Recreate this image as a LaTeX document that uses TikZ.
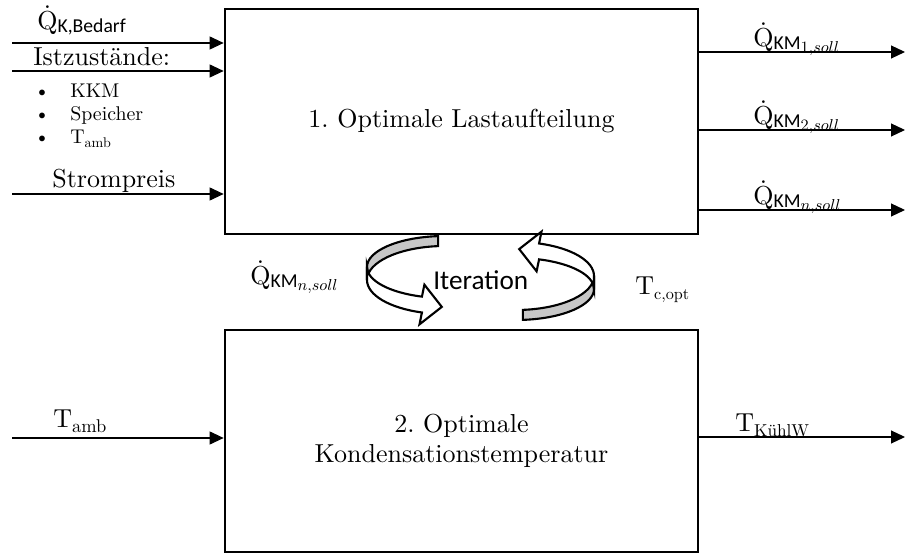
\documentclass[tikz,border=0pt]{standalone}
\usepackage{fontspec}
\usepackage{amsmath}
\setmainfont{lmroman10-regular.otf}
\newfontfamily\calibri{Carlito}
\usetikzlibrary{arrows.meta}

% Q with a centred dot above it
\newsavebox\qbox
\newcommand\Qd{\leavevmode\sbox\qbox{Q}%
  \rlap{\hbox to \wd\qbox{\hss\smash{\raisebox{\dimexpr\ht\qbox+2pt\relax}{.}}\hss}}%
  \usebox\qbox}
% flow rate with a sans subscript and an optional italic second-level index
\newcommand\Qflow[2]{\Qd\raisebox{-1.6pt}{\calibri\fontsize{11.2}{13}\selectfont #1%
  \ifx\relax#2\relax\else\raisebox{-1.4pt}{\fontsize{9}{11}\selectfont$#2$}\fi}}
% temperature with a lowered upright index of a given size
\newcommand\Tsub[2]{T\raisebox{-0.19em}{\fontsize{#1}{12}\selectfont #2}}

\tikzset{
  box/.style={draw, line width=1.6pt, align=center, inner sep=0pt,
    font=\fontsize{14.8}{17}\selectfont},
  flow/.style={line width=0.6pt, -{Triangle[length=0.28cm,width=0.26cm]}},
  lbl/.style={inner sep=0pt, anchor=base west, font=\fontsize{14.8}{17}\selectfont},
  small/.style={inner sep=0pt, anchor=base west, font=\fontsize{11.3}{13}\selectfont},
  ring/.style={line width=1.2pt, draw=black},
  % three-dimensional circular arrow, origin at the middle of the iteration pair
  iterarrow/.pic={
    \filldraw[ring, fill=black!22] (-42.43,41.88)
      arc[start angle=95.1, end angle=180, x radius=78, y radius=31]
      -- ++(0,-13)
      arc[start angle=180, end angle=95.1, x radius=78, y radius=34] -- cycle;
    \filldraw[ring, fill=white] (-113.5,11)
      arc[start angle=180, end angle=252.8, x radius=78, y radius=31]
      -- (-56.1,-6.7) -- (-38.7,-28.9) -- (-61.0,-46.35) -- (-58.57,-34.48)
      arc[start angle=252.8, end angle=180, x radius=78, y radius=34] -- cycle;
  }
}

\begin{document}
\begin{tikzpicture}[x=0.02cm, y=0.02cm]
\useasboundingbox (0,0) rectangle (905,554);

% the two optimisation stages
\node[box, minimum width=9.46cm, minimum height=4.5cm] (b1) at (461.5,432.5)
  {1.\ Optimale Lastaufteilung};
\node[box, minimum width=9.46cm, minimum height=4.44cm] (b2) at (461.5,113)
  {2.\ Optimale\\Kondensationstemperatur};

% inputs
\coordinate (i1) at (12,511);
\coordinate (i2) at (12,483);
\coordinate (i3) at (12,360);
\coordinate (i4) at (12,116);
\draw[flow] (i1) -- (i1 -| b1.west);
\draw[flow] (i2) -- (i2 -| b1.west);
\draw[flow] (i3) -- (i3 -| b1.west);
\draw[flow] (i4) -- (i4 -| b2.west);

\node[lbl] (qin) at (37,524) {\Qflow{K,Bedarf}{}};
\node[lbl] (ist) at (33,488) {Istzustände:};
\node[small] (bu1) at (34,456) {\textbullet};
\node[small] (bu2) at (34,433) {\textbullet};
\node[small] (bu3) at (34,410) {\textbullet};
\node[small] (it1) at (70,456) {KKM};
\node[small] (it2) at (70,433) {Speicher};
\node[small] (it3) at (70,410) {\Tsub{8}{amb}};
\node[lbl] (strom) at (52,366) {Strompreis};
\node[lbl] (tamb) at (53,126) {\Tsub{10.5}{amb}};

% outputs
\coordinate (o1) at (905,502);
\coordinate (o2) at (905,424);
\coordinate (o3) at (905,344);
\coordinate (o4) at (905,117);
\draw[flow] (o1 -| b1.east) -- (o1);
\draw[flow] (o2 -| b1.east) -- (o2);
\draw[flow] (o3 -| b1.east) -- (o3);
\draw[flow] (o4 -| b2.east) -- (o4);

\node[lbl] (qo1) at (753,507) {\Qflow{KM}{1{,}soll}};
\node[lbl] (qo2) at (753,429) {\Qflow{KM}{2{,}soll}};
\node[lbl] (qo3) at (753,349) {\Qflow{KM}{n{,}soll}};
\node[lbl] (tkw) at (735,122) {\Tsub{9.8}{KühlW}};

% iteration between the stages
\pic at (480.5,276) {iterarrow};
\pic[rotate=180] at (480.5,276) {iterarrow};
\node[lbl, font=\calibri\fontsize{15.5}{18}\selectfont] (iter) at (433,264) {Iteration};
\node[lbl] (qmid) at (250,269) {\Qflow{KM}{n{,}soll}};
\node[lbl] (tco) at (635,259) {\Tsub{9.2}{c,opt}};
\end{tikzpicture}
\end{document}
